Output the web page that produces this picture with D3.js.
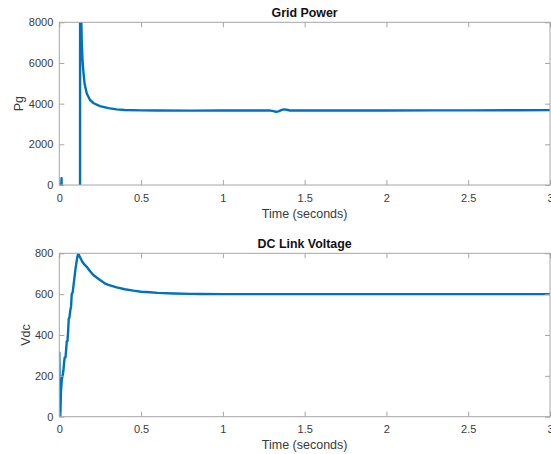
<!DOCTYPE html>
<html>
<head>
<meta charset="utf-8">
<script src="https://cdn.jsdelivr.net/npm/d3@7/dist/d3.min.js"></script>
<style>
  html, body { margin: 0; padding: 0; background: #ffffff; }
  svg { display: block; font-family: "Liberation Sans", Arial, Helvetica, sans-serif; }
</style>
</head>
<body>
<svg id="chart" width="551" height="454"></svg>
<script>
// Grid power (W) against simulation time (s)
const gridTime = [0, 0.008, 0.012, 0.0138, 0.0142, 0.05, 0.1, 0.1268, 0.1272,
  0.133, 0.137, 0.142, 0.147, 0.155, 0.168, 0.188, 0.21, 0.249, 0.3, 0.35, 0.4,
  0.5, 0.6, 0.8, 1.0, 1.2, 1.29, 1.31, 1.325, 1.34, 1.36, 1.375, 1.39, 1.41,
  1.5, 1.8, 2.0, 2.3, 2.5, 2.8, 3.0];
const gridPower = [0, 40, 90, 340, -400, -400, -400, -400, 11000,
  8800, 7100, 6100, 5600, 4950, 4500, 4180, 4020, 3880, 3780, 3720, 3690,
  3670, 3660, 3655, 3660, 3660, 3660, 3635, 3600, 3620, 3690, 3720, 3700, 3665,
  3660, 3665, 3665, 3670, 3670, 3675, 3680];

// DC link voltage (V) against simulation time (s)
const dcTime = [0, 0.004, 0.006, 0.01, 0.015, 0.02, 0.025, 0.03, 0.033, 0.038,
  0.042, 0.046, 0.05, 0.054, 0.058, 0.062, 0.067, 0.072, 0.076, 0.082, 0.088,
  0.1, 0.11, 0.116, 0.12, 0.13, 0.14, 0.15, 0.168, 0.188, 0.208, 0.23, 0.249,
  0.28, 0.3, 0.351, 0.4, 0.453, 0.5, 0.555, 0.6, 0.7, 0.8, 0.861, 1.0, 1.5,
  2.0, 2.5, 3.0];
const dcVoltage = [318, 0, 0, 120, 180, 200, 225, 270, 290, 290,
  330, 370, 370, 420, 480, 485, 520, 540, 600, 610, 650,
  730, 780, 800, 792, 776, 760, 748, 734, 712, 694, 680, 669,
  652, 645, 633, 624, 617, 612, 609, 606, 603, 601.5, 601, 600, 600,
  600, 600, 600];

const xTicks = [0, 0.5, 1, 1.5, 2, 2.5, 3];
const gridTicks = [0, 2000, 4000, 6000, 8000];
const dcTicks = [0, 200, 400, 600, 800];

const svg = d3.select("#chart");
const lineColor = "#0072BD";
const axisColor = "#a6a6a6";
const textColor = "#3a3a3a";

const panels = [
  { title: "Grid Power", ylabel: "Pg", labelX: 23, t: gridTime, v: gridPower,
    domain: [0, 8000], ticks: gridTicks, top: 22.3, bottom: 185 },
  { title: "DC Link Voltage", ylabel: "Vdc", labelX: 29.5, t: dcTime, v: dcVoltage,
    domain: [0, 800], ticks: dcTicks, top: 253.3, bottom: 416.7 }
];

const left = 59.3, right = 550;

panels.forEach((p, i) => {
  const x = d3.scaleLinear().domain([0, 3]).range([left, right]);
  const y = d3.scaleLinear().domain(p.domain).range([p.bottom, p.top]);
  const g = svg.append("g");

  const clipId = "clip" + i;
  svg.append("clipPath").attr("id", clipId)
    .append("rect")
    .attr("x", left).attr("y", p.top)
    .attr("width", right - left).attr("height", p.bottom - p.top);

  // series
  const pts = p.t.map((t, k) => [t, p.v[k]]);
  g.append("path")
    .datum(pts)
    .attr("clip-path", `url(#${clipId})`)
    .attr("fill", "none")
    .attr("stroke", lineColor)
    .attr("stroke-width", 2.4)
    .attr("stroke-linejoin", "round")
    .attr("d", d3.line().x(d => x(d[0])).y(d => y(d[1])));

  // box
  g.append("rect")
    .attr("x", left).attr("y", p.top)
    .attr("width", right - left).attr("height", p.bottom - p.top)
    .attr("fill", "none").attr("stroke", axisColor).attr("stroke-width", 1);

  // inward ticks on all four sides
  const tl = 5;
  const styleAxis = sel => {
    sel.select(".domain").remove();
    sel.selectAll(".tick line").attr("stroke", axisColor);
    sel.selectAll(".tick text")
      .attr("fill", textColor)
      .style("font-size", "11px");
  };

  const xb = g.append("g").attr("transform", `translate(0,${p.bottom})`)
    .call(d3.axisBottom(x).tickValues(xTicks).tickFormat(d3.format("")).tickSizeInner(-tl).tickSizeOuter(0).tickPadding(9));
  styleAxis(xb);
  const xt = g.append("g").attr("transform", `translate(0,${p.top})`)
    .call(d3.axisTop(x).tickValues(xTicks).tickFormat("").tickSizeInner(-tl).tickSizeOuter(0));
  styleAxis(xt);
  const yl = g.append("g").attr("transform", `translate(${left},0)`)
    .call(d3.axisLeft(y).tickValues(p.ticks).tickFormat(d3.format("")).tickSizeInner(-tl).tickSizeOuter(0).tickPadding(6));
  styleAxis(yl);
  const yr = g.append("g").attr("transform", `translate(${right},0)`)
    .call(d3.axisRight(y).tickValues(p.ticks).tickFormat("").tickSizeInner(-tl).tickSizeOuter(0));
  styleAxis(yr);

  const cx = (left + right) / 2;
  g.append("text")
    .attr("x", cx).attr("y", p.top - 5)
    .attr("text-anchor", "middle")
    .attr("fill", "#111")
    .style("font-size", "12.4px").style("font-weight", "bold")
    .text(p.title);

  g.append("text")
    .attr("x", cx).attr("y", p.bottom + 32.5)
    .attr("text-anchor", "middle")
    .attr("fill", textColor)
    .style("font-size", "12.5px")
    .text("Time (seconds)");

  g.append("text")
    .attr("transform", `translate(${p.labelX},${(p.top + p.bottom) / 2}) rotate(-90)`)
    .attr("text-anchor", "middle")
    .attr("fill", textColor)
    .style("font-size", "12.5px")
    .text(p.ylabel);
});
</script>
</body>
</html>
